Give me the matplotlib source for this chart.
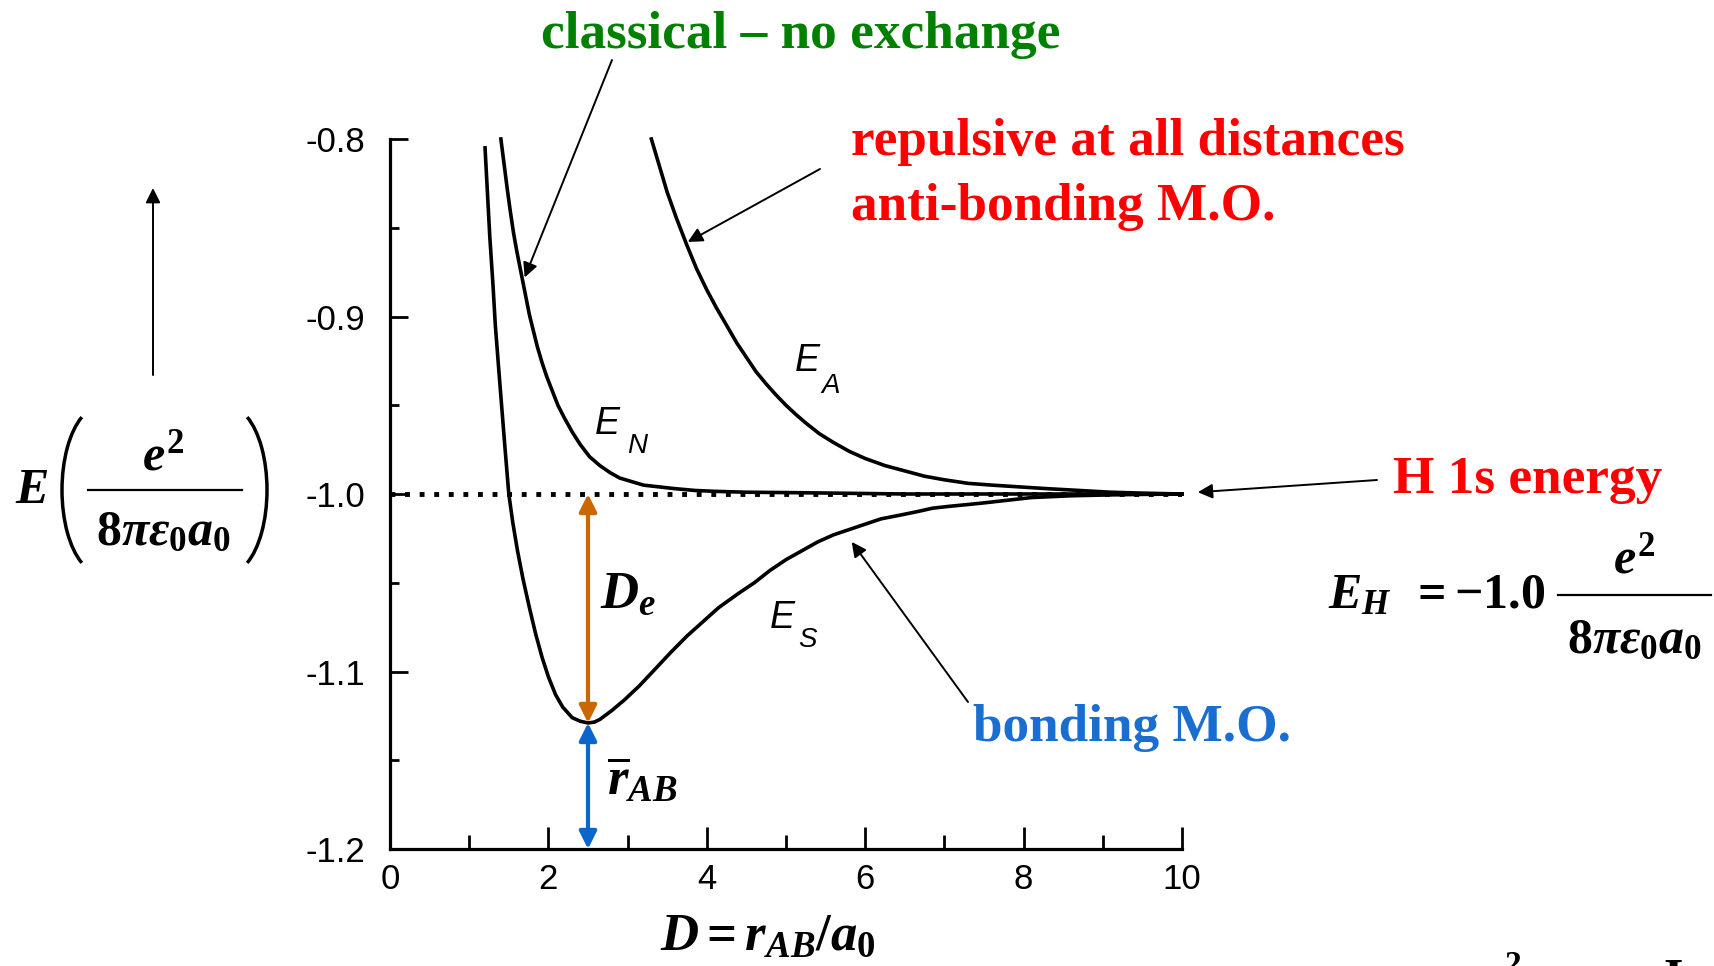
import matplotlib
matplotlib.use('Agg')
import matplotlib.pyplot as plt
from matplotlib.ticker import MultipleLocator, FormatStrFormatter
from matplotlib.transforms import Affine2D
from matplotlib.lines import Line2D
from matplotlib.patches import Arc

# values; D = r_AB/a0, energy in e^2/(8 pi eps0 a0)
# E_S, bonding M.O.
d_s = [1.20, 1.23, 1.26, 1.30, 1.33, 1.37, 1.40, 1.45, 1.50, 1.55, 1.61, 1.68, 1.76, 1.84,
       1.92, 2.00, 2.09, 2.18, 2.30, 2.40, 2.50, 2.58, 2.65, 2.80, 2.96, 3.15, 3.34, 3.55,
       3.75, 3.95, 4.15, 4.40, 4.60, 4.80, 5.00, 5.20, 5.40, 5.60, 5.80, 6.00, 6.20, 6.43,
       6.65, 6.85, 7.05, 7.28, 7.50, 7.70, 8.10, 8.60, 9.10, 9.55, 10.0]
e_s = [-0.805, -0.830, -0.855, -0.882, -0.905, -0.928, -0.945, -0.973, -1.000, -1.016,
       -1.032, -1.048, -1.064, -1.079, -1.092, -1.103, -1.113, -1.120, -1.126, -1.128,
       -1.129, -1.1285, -1.127, -1.122, -1.116, -1.108, -1.099, -1.089, -1.080, -1.072,
       -1.064, -1.056, -1.050, -1.043, -1.037, -1.032, -1.027, -1.023, -1.020, -1.017,
       -1.014, -1.012, -1.010, -1.008, -1.007, -1.006, -1.005, -1.004, -1.002, -1.001,
       -1.0005, -1.0002, -1.0]

# E_N, classical (no exchange)
d_n = [1.40, 1.44, 1.48, 1.52, 1.56, 1.60, 1.64, 1.68, 1.72, 1.76, 1.81, 1.86, 1.92, 1.98,
       2.05, 2.12, 2.20, 2.30, 2.40, 2.52, 2.65, 2.78, 2.90, 3.05, 3.20, 3.40, 3.60, 3.85,
       4.10, 4.50, 5.00, 5.60, 6.50, 10.0]
e_n = [-0.800, -0.814, -0.828, -0.841, -0.853, -0.863, -0.872, -0.881, -0.890, -0.899,
       -0.908, -0.917, -0.926, -0.934, -0.942, -0.950, -0.957, -0.965, -0.972, -0.979,
       -0.984, -0.988, -0.991, -0.993, -0.995, -0.996, -0.997, -0.998, -0.9985, -0.999,
       -0.9992, -0.9995, -1.0, -1.0]

# E_A, anti-bonding M.O.
d_a = [3.30, 3.40, 3.50, 3.62, 3.75, 3.87, 4.00, 4.12, 4.25, 4.38, 4.50, 4.62, 4.75, 4.87,
       5.00, 5.12, 5.25, 5.42, 5.60, 5.80, 6.00, 6.25, 6.50, 6.75, 7.00, 7.30, 7.60, 7.95,
       8.30, 8.70, 9.10, 9.50, 10.0]
e_a = [-0.800, -0.815, -0.830, -0.845, -0.860, -0.873, -0.885, -0.895, -0.905, -0.915,
       -0.923, -0.931, -0.938, -0.944, -0.950, -0.955, -0.960, -0.966, -0.971, -0.976,
       -0.980, -0.984, -0.987, -0.990, -0.992, -0.994, -0.995, -0.996, -0.997, -0.998,
       -0.999, -0.9995, -1.0]

e_h = -1.0      # H 1s energy
r_eq = 2.5      # bond length at minimum
e_min = -1.129  # minimum of E_S
e_floor = -1.2

plt.rcParams['axes.unicode_minus'] = False
plt.rcParams['font.family'] = ['Liberation Sans', 'DejaVu Sans']
plt.rcParams['mathtext.fontset'] = 'custom'
plt.rcParams['mathtext.it'] = 'Liberation Serif:italic:bold'
plt.rcParams['mathtext.rm'] = 'Liberation Serif:bold'
plt.rcParams['mathtext.bf'] = 'Liberation Serif:bold'

W, H = 1714, 966
fig = plt.figure(figsize=(W / 100, H / 100), dpi=100)
# pixel coords measured from the top-left corner
pt = Affine2D().scale(1 / 100, -1 / 100).translate(0, H / 100) + fig.dpi_scale_trans

ax = fig.add_axes([390 / W, 1 - 849 / H, (1182 - 390) / W, (849 - 139) / H])
ax.set_xlim(0, 10)
ax.set_ylim(-1.2, -0.8)
for s in ['top', 'right']:
    ax.spines[s].set_visible(False)
for s in ['left', 'bottom']:
    ax.spines[s].set_linewidth(2.3)

ax.xaxis.set_major_locator(MultipleLocator(2))
ax.xaxis.set_minor_locator(MultipleLocator(1))
ax.yaxis.set_major_locator(MultipleLocator(0.1))
ax.yaxis.set_minor_locator(MultipleLocator(0.05))
ax.xaxis.set_major_formatter(FormatStrFormatter('%d'))
ax.yaxis.set_major_formatter(FormatStrFormatter('%.1f'))
ax.tick_params(axis='x', which='major', direction='in', length=16, width=2, labelsize=25, pad=10)
ax.tick_params(axis='x', which='minor', direction='in', length=10, width=2)
ax.tick_params(axis='y', which='major', direction='in', length=13, width=2, labelsize=25, pad=18)
ax.tick_params(axis='y', which='minor', direction='in', length=6.5, width=2)

# curves
ax.plot(d_s, e_s, color='k', lw=2.6, clip_on=False)
ax.plot(d_n, e_n, color='k', lw=2.6, clip_on=False)
ax.plot(d_a, e_a, color='k', lw=2.6, clip_on=False)
ax.axhline(e_h, color='k', lw=3.5, ls=(0, (1, 2)), dash_capstyle='butt')

# D_e and r_AB arrows
ax.annotate('', xy=(r_eq, e_h), xytext=(r_eq, e_min),
            arrowprops=dict(arrowstyle='<|-|>', color='#cc6600', lw=3, mutation_scale=26,
                            shrinkA=0, shrinkB=0))
ax.annotate('', xy=(r_eq, e_min), xytext=(r_eq, e_floor),
            arrowprops=dict(arrowstyle='<|-|>', color='#0a66cc', lw=3, mutation_scale=26,
                            shrinkA=0, shrinkB=0), annotation_clip=False)

# curve labels
lab = dict(style='italic', color='k', va='baseline')
ax.text(2.59, -0.966, 'E', fontsize=27, **lab)
ax.text(2.99, -0.977, 'N', fontsize=20, **lab)
ax.text(5.11, -0.9305, 'E', fontsize=27, **lab)
ax.text(5.45, -0.943, 'A', fontsize=20, **lab)
ax.text(4.79, -1.0757, 'E', fontsize=27, **lab)
ax.text(5.16, -1.086, 'S', fontsize=20, **lab)

# pointer arrows
arr = dict(arrowstyle='-|>', color='k', lw=1.4, mutation_scale=22, shrinkA=0, shrinkB=0)
ax.annotate('', xy=(1.70, -0.878), xytext=(612, 60), textcoords=pt,
            arrowprops=arr, annotation_clip=False)
ax.annotate('', xy=(3.76, -0.858), xytext=(820, 169), textcoords=pt,
            arrowprops=arr, annotation_clip=False)
ax.annotate('', xy=(10.2, -0.999), xytext=(1377, 480), textcoords=pt,
            arrowprops=arr, annotation_clip=False)
ax.annotate('', xy=(5.83, -1.027), xytext=(968, 702), textcoords=pt,
            arrowprops=arr, annotation_clip=False)
ax.annotate('', xy=(153, 188), xytext=(153, 375), xycoords=pt, textcoords=pt,
            arrowprops=arr, annotation_clip=False)

# big captions
cap = dict(family='Liberation Serif', weight='bold', fontsize=38.3, va='baseline', transform=pt)
fig.text(541, 48, 'classical \u2013 no exchange', color='#008000', **cap)
fig.text(851, 155, 'repulsive at all distances', color='#ff0000', **cap)
fig.text(851, 220, 'anti-bonding M.O.', color='#ff0000', **cap)
fig.text(1393, 493, 'H 1s energy', color='#ff0000', **cap)
fig.text(973, 741, 'bonding M.O.', color='#1a6ed2', **cap)

# energy unit label on the left: E ( e^2 / 8 pi eps0 a0 )
mt = dict(fontsize=36, va='baseline', transform=pt)
fig.text(15, 503, r'$E$', **mt)
fig.text(163, 470, r'$e^{2}$', ha='center', **mt)
fig.text(163, 545, r'$8\pi\varepsilon_{0}a_{0}$', ha='center', **mt)
fig.add_artist(Line2D([88, 242], [490, 490], color='k', lw=1.6, transform=pt))
fig.add_artist(Arc((100, 490), 76, 166, theta1=104, theta2=256, lw=2.5, color='k', transform=pt))
fig.add_artist(Arc((229, 490), 76, 166, theta1=-76, theta2=76, lw=2.5, color='k', transform=pt))

# E_H = -1.0 e^2 / 8 pi eps0 a0
fig.text(1328, 608, r'$E_{H}$', **mt)
fig.text(1410, 608, r'$=-1.0$', **mt)
fig.text(1634, 573, r'$e^{2}$', ha='center', **mt)
fig.text(1634, 653, r'$8\pi\varepsilon_{0}a_{0}$', ha='center', **mt)
fig.add_artist(Line2D([1558, 1711], [595, 595], color='k', lw=1.6, transform=pt))

# axis label and arrow labels
fig.text(660, 950, r'$D=r_{AB}/a_{0}$', fontsize=38, va='baseline', transform=pt)
fig.text(600, 608, r'$D_{e}$', fontsize=38, va='baseline', transform=pt)
fig.text(607, 795, r'$\overline{r}_{AB}$', fontsize=38, va='baseline', transform=pt)

# bits of the next line cut off at the bottom
fig.text(1505, 950, '2', family='Liberation Serif', weight='bold', fontsize=24, va='top',
         transform=pt)
fig.text(1663, 958, 'I', family='Liberation Serif', weight='bold', fontsize=36, va='top',
         transform=pt)

fig.savefig('out.png', dpi=100)
